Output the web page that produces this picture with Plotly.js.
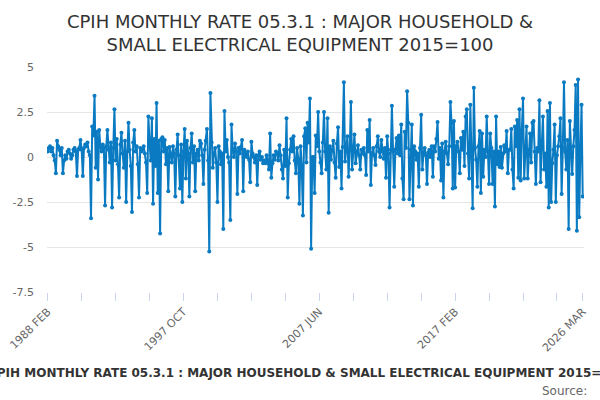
<!DOCTYPE html>
<html>
<head>
<meta charset="utf-8">
<script src="https://cdn.plot.ly/plotly-3.0.1.min.js"></script>
<style>
  html, body { margin: 0; padding: 0; background: #fff; }
  #chart-area { width: 600px; height: 400px; }
</style>
</head>
<body>
<div id="chart-area"></div>
<script>
// monthly rate, one row per year (1988 starts in FEB, 2026 ends in MAR)
const y1988 = [0.3, 0.5, 0.6, 0.3, 0.5, 0.1, -0.2, -0.9, 0.9, 0.6, 0.4];
const y1989 = [0.1, 0.5, -0.9, -0.2, 0.1, -0.1, 0.3, 0.4, 0.2, -0.1, 0.1, 0.4];
const y1990 = [0.5, 0.3, -1.05, 0.4, 0.5, 0.95, 0.4, -1.05, 0.5, 0.7, 0.6, 0.8];
const y1991 = [0.3, 0.1, -3.4, 1.7, 1.2, 3.4, -0.6, 1.4, -1.25, 1.5, 0.6, 0.3];
const y1992 = [0.7, 0.5, -2.7, 0.6, 1.5, 0.4, -0.3, 0.8, -2.8, 0.5, 2.65, -0.2];
const y1993 = [1.0, -0.4, -2.25, 0.7, 1.35, 0.2, -0.6, 0.9, -2.5, 0.3, 1.9, 0.4];
const y1994 = [-0.5, -3.05, 0.8, 1.5, 0.3, 0.6, -0.4, -2.25, 0.5, 0.3, 0.4, 0.6];
const y1995 = [0.2, -0.3, -2.0, 2.25, 0.8, -0.2, 2.15, -2.6, 1.0, -0.5, 3.0, -2.0];
const y1996 = [0.9, -4.25, 1.0, 1.1, 0.3, 0.95, -0.4, 0.5, -1.9, 0.55, 0.2, -0.3];
const y1997 = [0.6, 0.2, -2.2, 0.4, 1.25, 0.1, -1.75, 0.7, -2.5, 0.3, 1.55, -1.2];
const y1998 = [0.9, 0.2, -2.2, 0.5, 1.3, -0.3, 0.6, -1.9, 0.2, 0.4, -0.2, 0.9];
const y1999 = [0.75, 0.1, -1.5, 0.4, 0.9, 1.55, -0.2, -5.25, 3.55, 0.8, -0.6, 0.2];
const y2000 = [0.5, -0.3, -2.5, 0.6, 0.3, -0.4, 0.2, -4.0, 2.55, 0.3, 0.95, 0.0];
const y2001 = [-0.3, -3.5, 1.8, 0.4, 0.0, 0.75, 0.3, -2.05, 0.5, 0.2, 0.55, 0.95];
const y2002 = [-1.9, 0.4, 0.2, 0.0, 0.3, -0.15, -1.4, 0.85, 0.2, 0.0, -0.3, 0.1];
const y2003 = [-1.55, 0.1, 0.3, -0.15, 0.0, -0.35, -0.2, -0.35, 0.1, -0.3, -0.7, 1.3];
const y2004 = [-1.15, -0.35, 0.1, -0.15, 0.3, 0.2, -0.2, 0.65, 0.1, -0.7, -1.2, 0.4];
const y2005 = [-0.5, 2.15, -2.25, -0.35, 0.4, 1.0, 0.3, 1.15, -0.2, -0.9, 0.5, -0.1];
const y2006 = [-2.6, 0.6, -0.5, -3.25, 1.15, 1.6, -0.3, 1.9, 0.8, 3.25, -5.1, 0.0];
const y2007 = [0.0, -2.0, 1.2, 0.6, 2.5, 0.3, -0.3, -0.9, 0.8, 2.5, 0.3, -0.7];
const y2008 = [2.15, -3.1, 0.6, -0.15, 0.4, 0.9, -0.3, -1.15, 0.75, 1.65, -0.55, 0.3];
const y2009 = [-1.75, 0.55, 4.15, -0.25, 0.6, 1.15, -1.1, 0.4, 3.05, -0.7, 0.3, 1.25];
const y2010 = [-0.35, 0.3, 0.65, 0.1, -0.7, 0.4, 0.2, 0.5, 0.1, -1.0, 1.5, 0.3];
const y2011 = [2.05, -1.55, 0.2, 0.5, 0.1, -0.45, 0.6, 1.15, 0.3, 0.0, 0.95, 0.3];
const y2012 = [-0.1, 0.5, -1.15, 1.15, 0.2, -2.8, 0.4, 2.85, 0.3, -1.65, 0.4, 1.05];
const y2013 = [0.2, 1.2, 0.1, 1.8, -1.2, -2.35, 1.4, 0.5, 3.65, 1.9, -2.35, 0.4];
const y2014 = [1.8, -2.7, 0.6, 0.3, -0.15, 0.2, -1.65, 0.5, 2.35, -0.7, 0.2, 0.5];
const y2015 = [0.1, -1.5, 0.25, 0.4, 0.0, 0.6, -1.1, 0.6, 0.3, 1.0, 1.95, -0.1];
const y2016 = [0.5, -1.3, 0.75, -2.25, 0.3, 0.85, 0.2, -0.4, 0.6, 3.05, 1.9, -1.75];
const y2017 = [2.0, -1.7, 0.6, 0.85, 0.3, -0.9, 1.05, 0.4, 1.4, -0.5, 2.25, 2.65];
const y2018 = [0.2, -1.2, 2.9, 0.0, -2.85, 3.85, 0.5, -0.15, -1.65, 0.6, 1.45, -2.0];
const y2019 = [1.3, -1.1, 0.4, 0.0, 2.25, 0.3, -1.5, 1.3, 0.5, -1.5, 0.3, -2.75];
const y2020 = [2.25, -0.4, 0.3, -0.55, 0.55, -0.6, 0.2, 0.65, 0.3, 1.45, -0.9, 0.4];
const y2021 = [0.4, 1.55, -0.7, -1.75, 1.7, 0.6, 2.05, -1.15, 2.65, -1.3, 1.5, 3.25];
const y2022 = [-1.2, 0.5, 1.7, -1.2, 0.4, 1.3, -0.3, 1.9, 2.0, 0.3, -1.5, 0.5];
const y2023 = [0.3, 3.15, -1.4, 0.6, 2.25, -0.7, 0.2, -1.65, 2.55, -2.8, 3.0, -2.5];
const y2024 = [-0.35, 0.4, 1.8, -2.5, 0.1, 0.6, 1.15, 2.15, -2.05, 0.5, 4.15, 0.3];
const y2025 = [-0.7, 0.95, -4.0, 2.0, 0.1, -0.95, 0.6, 1.5, 4.0, -4.1, 4.3, -3.35];
const y2026 = [0.2, 2.9, -2.2];

const monthNames = ["JAN", "FEB", "MAR", "APR", "MAY", "JUN",
  "JUL", "AUG", "SEP", "OCT", "NOV", "DEC"];
const labelledMonths = ["1988 FEB", "1997 OCT", "2007 JUN", "2017 FEB", "2026 MAR"];
const tickStep = 29; // a tick every 29 months, labels on every 4th

const rates = [].concat(
  y1988, y1989, y1990, y1991, y1992, y1993, y1994, y1995, y1996, y1997,
  y1998, y1999, y2000, y2001, y2002, y2003, y2004, y2005, y2006, y2007,
  y2008, y2009, y2010, y2011, y2012, y2013, y2014, y2015, y2016, y2017,
  y2018, y2019, y2020, y2021, y2022, y2023, y2024, y2025, y2026
);

// month labels, starting 1988 FEB
let months = [];
for (let i = 0; i < rates.length; i++) {
  let m = 1 + i; // FEB = index 1
  months.push((1988 + Math.floor(m / 12)) + " " + monthNames[m % 12]);
}

// tick positions every 29 months plus the last month
let tickVals = [];
let tickText = [];
for (let i = 0; i < months.length; i += tickStep) {
  tickVals.push(months[i]);
  tickText.push(labelledMonths.includes(months[i]) ? months[i] : "");
}
tickVals.push(months[months.length - 1]);
tickText.push(months[months.length - 1]);

const titleText = "CPIH MONTHLY RATE 05.3.1 : MAJOR HOUSEHOLD & SMALL ELECTRICAL EQUIPMENT 2015=100";

let data = [
  {
    x: months,
    y: rates,
    type: "scatter",
    mode: "lines+markers",
    line: { color: "#0a7bc2", width: 2 },
    marker: { color: "#0a7bc2", size: 4 },
    hoverinfo: "x+y",
    showlegend: false,
  },
];

let layout = {
  width: 600,
  height: 400,
  font: { family: "DejaVu Sans, Verdana, sans-serif", color: "#666", size: 11 },
  title: {
    text: "CPIH MONTHLY RATE 05.3.1 : MAJOR HOUSEHOLD &<br>SMALL ELECTRICAL EQUIPMENT 2015=100",
    font: { size: 18, color: "#333" },
    x: 0.5,
    xanchor: "center",
    y: 0.93,
    yanchor: "top",
  },
  margin: { l: 47, r: 16, t: 67, b: 108 },
  paper_bgcolor: "#fff",
  plot_bgcolor: "#fff",
  xaxis: {
    type: "category",
    range: [-0.6, 458.1],
    tickmode: "array",
    tickvals: tickVals,
    ticktext: tickText,
    tickangle: -45,
    ticks: "outside",
    ticklen: 8,
    tickcolor: "#ccd6eb",
    showgrid: false,
    zeroline: false,
    showline: false,
  },
  yaxis: {
    range: [-7.5, 5],
    tickvals: [-7.5, -5, -2.5, 0, 2.5, 5],
    ticktext: ["-7.5", "-5", "-2.5", "0", "2.5", "5"],
    showgrid: true,
    gridcolor: "#e6e6e6",
    zeroline: false,
    ticks: "",
    ticklabelstandoff: 12,
  },
  annotations: [
    {
      // x-axis title, centred a little left of the plot centre as in the source
      text: "<b>" + titleText + "</b>",
      xref: "paper",
      yref: "paper",
      x: (307 - 47) / 537,
      y: (292 - 373) / 225,
      xanchor: "center",
      yanchor: "middle",
      showarrow: false,
      font: { size: 12, color: "#333" },
    },
    {
      text: "Source:",
      xref: "paper",
      yref: "paper",
      x: 1.01,
      y: (292 - 391) / 225,
      xanchor: "right",
      yanchor: "middle",
      showarrow: false,
      font: { size: 12, color: "#666" },
    },
  ],
};

Plotly.newPlot("chart-area", data, layout, { staticPlot: true });
</script>
</body>
</html>
